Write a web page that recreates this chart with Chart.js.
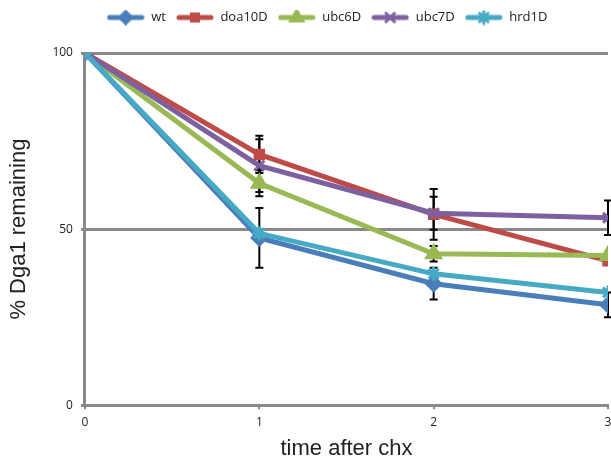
<!DOCTYPE html>
<html>
<head>
<meta charset="utf-8">
<script src="https://cdn.jsdelivr.net/npm/chart.js@4"></script>
<style>
  html, body { margin: 0; padding: 0; background: #fff; }
  #wrap { width: 611px; height: 469px; }
</style>
</head>
<body>
<div id="wrap"><canvas id="graph"></canvas></div>
<script>
const times = [0, 1, 2, 3];

const wt = [100, 47.5, 34.5, 28.5];
const doa10D = [100, 71.2, 54.2, 41];
const ubc6D = [100, 63, 43, 42.5];
const ubc7D = [100, 68, 54.5, 53.2];
const hrd1D = [100, 48.8, 37.3, 32];

// error bar half-heights
const wtErr = [0, 8.5, 4.5, 3.5];
const doa10DErr = [0, 5.3, 7.2, 0];
const ubc6DErr = [0, 3.7, 2.2, 0];
const ubc7DErr = [0, 7.5, 4.7, 4.9];
const hrd1DErr = [0, 0, 0, 0];

const seriesNames = ['wt', 'doa10D', 'ubc6D', 'ubc7D', 'hrd1D'];
const seriesValues = [wt, doa10D, ubc6D, ubc7D, hrd1D];
const seriesErrors = [wtErr, doa10DErr, ubc6DErr, ubc7DErr, hrd1DErr];
const colors = ['#4a7ebb', '#be4b48', '#98b954', '#7d60a0', '#46aac5'];
const markers = ['rectRot', 'rect', 'triangle', 'crossRot', 'star'];
const markerSize = [7, 6, 8, 7, 7];

function legendIcon(color, style, r) {
    const c = document.createElement('canvas');
    c.width = 38;
    c.height = 16;
    const ctx = c.getContext('2d');
    ctx.strokeStyle = color;
    ctx.lineWidth = 5;
    ctx.lineCap = 'round';
    ctx.beginPath();
    ctx.moveTo(3, 8);
    ctx.lineTo(35, 8);
    ctx.stroke();
    ctx.fillStyle = color;
    ctx.lineWidth = 3;
    Chart.helpers.drawPoint(ctx, { pointStyle: style, radius: r, borderWidth: 3, rotation: 0 }, 19, 8);
    return c;
}

const errorBars = {
    id: 'errorBars',
    beforeDatasetsDraw(chart) {
        const ctx = chart.ctx;
        const xs = chart.scales.x;
        const ys = chart.scales.y;
        ctx.save();
        ctx.strokeStyle = '#000';
        ctx.lineWidth = 2;
        chart.data.datasets.forEach((ds, i) => {
            const errs = seriesErrors[i];
            ds.data.forEach((pt, j) => {
                if (!errs[j]) return;
                const x = xs.getPixelForValue(pt.x);
                const top = ys.getPixelForValue(pt.y + errs[j]);
                const bot = ys.getPixelForValue(pt.y - errs[j]);
                ctx.beginPath();
                ctx.moveTo(x, top);
                ctx.lineTo(x, bot);
                ctx.moveTo(x - 4, top);
                ctx.lineTo(x + 4, top);
                ctx.moveTo(x - 4, bot);
                ctx.lineTo(x + 4, bot);
                ctx.stroke();
            });
        });
        ctx.restore();
    }
};

// give the legend some extra room below it, and nudge it right
const legendSpace = {
    id: 'legendSpace',
    beforeInit(chart) {
        const fit = chart.legend.fit;
        chart.legend.fit = function () {
            fit.bind(chart.legend)();
            this.height += 19;
        };
    },
    afterLayout(chart) {
        chart.legend.left += 40;
    }
};

const config = {
    type: 'line',
    data: {
        datasets: seriesNames.map((name, i) => ({
            label: name,
            data: times.map((t, j) => ({ x: t, y: seriesValues[i][j] })),
            borderColor: colors[i],
            backgroundColor: colors[i],
            borderWidth: 5,
            pointStyle: markers[i],
            pointRadius: markerSize[i],
            pointBorderWidth: 3,
            order: 4 - i,
            tension: 0
        }))
    },
    options: {
        responsive: true,
        maintainAspectRatio: false,
        animation: false,
        layout: { autoPadding: false, padding: { left: 6, right: 3, top: 1, bottom: 7 } },
        scales: {
            x: {
                type: 'linear',
                min: 0,
                max: 3,
                afterFit(scale) {
                    // let the last tick label run to the edge, as in the original
                    scale.paddingRight = 0;
                },
                ticks: {
                    stepSize: 1,
                    color: '#222',
                    font: { family: 'Open Sans', size: 12 },
                    padding: 6
                },
                grid: {
                    drawOnChartArea: false,
                    color: '#898989',
                    lineWidth: 2,
                    tickLength: 4
                },
                border: { color: '#898989', width: 3 },
                title: {
                    display: true,
                    text: 'time after chx',
                    color: '#222',
                    font: { family: 'Liberation Sans', size: 22 },
                    padding: { top: 0, bottom: 0 }
                }
            },
            y: {
                min: 0,
                max: 100,
                ticks: {
                    stepSize: 50,
                    color: '#222',
                    font: { family: 'Open Sans', size: 12 },
                    padding: 8
                },
                grid: {
                    color: '#898989',
                    lineWidth: 3,
                    tickLength: 4
                },
                border: { color: '#898989', width: 3 },
                title: {
                    display: true,
                    text: '% Dga1 remaining',
                    color: '#222',
                    font: { family: 'Liberation Sans', size: 22 },
                    padding: { top: 0, bottom: 12 }
                }
            }
        },
        plugins: {
            legend: {
                position: 'top',
                labels: {
                    usePointStyle: true,
                    pointStyleWidth: 38,
                    boxHeight: 14,
                    color: '#222',
                    font: { family: 'Open Sans', size: 13 },
                    padding: 10,
                    sort: (a, b) => a.datasetIndex - b.datasetIndex,
                    generateLabels(chart) {
                        return chart.data.datasets.map((ds, i) => ({
                            text: ds.label,
                            datasetIndex: i,
                            fontColor: '#222',
                            pointStyle: legendIcon(colors[i], markers[i], markerSize[i] - 1),
                            hidden: false,
                            lineWidth: 0
                        }));
                    }
                }
            },
            tooltip: { enabled: false }
        }
    },
    plugins: [errorBars, legendSpace]
};

const myChart = new Chart(document.getElementById('graph'), config);
</script>
</body>
</html>
